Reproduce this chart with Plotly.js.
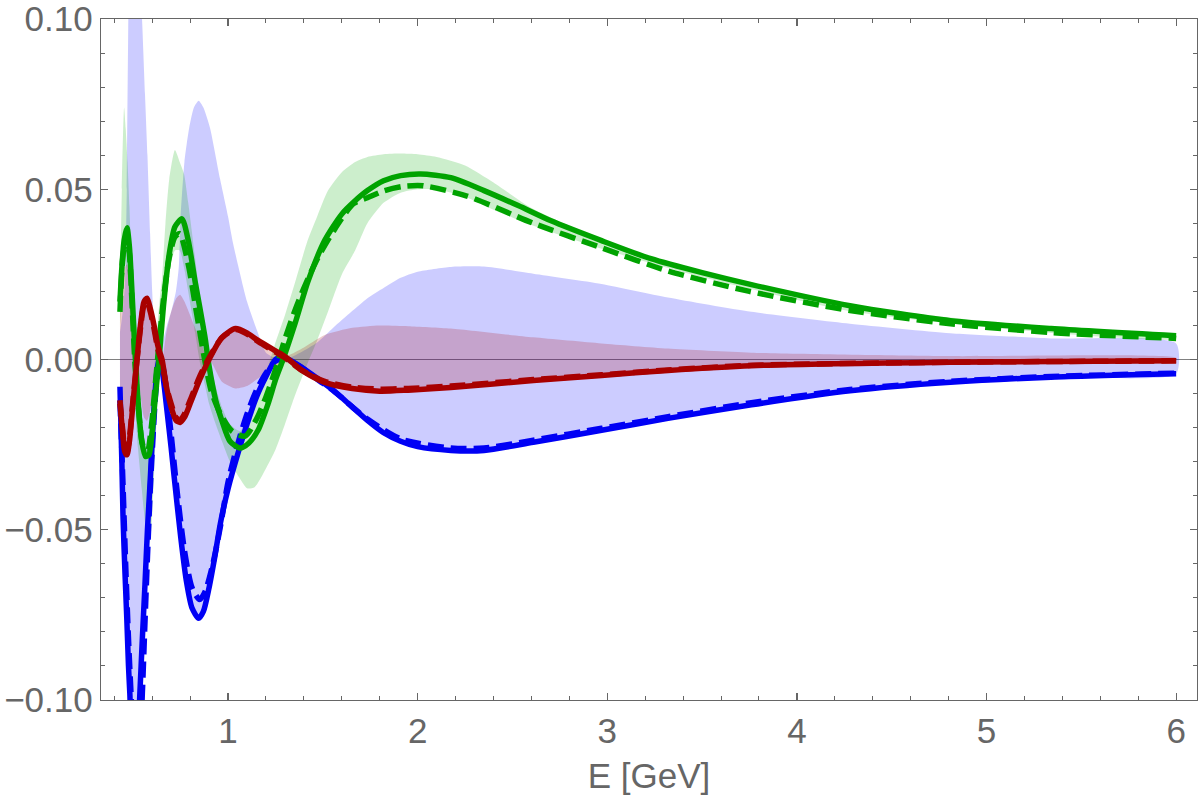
<!DOCTYPE html>
<html>
<head>
<meta charset="utf-8">
<script src="https://cdn.plot.ly/plotly-3.0.1.min.js"></script>
<style>
  html, body { margin: 0; padding: 0; background: #fff; }
  #chart { width: 1200px; height: 800px; }
</style>
</head>
<body>
<div id="chart"></div>
<script>
// Values (E in GeV)

// blue, solid and dashed
const blueX = [0.43, 0.44, 0.446, 0.456, 0.466, 0.475, 0.482, 0.50, 0.52, 0.535, 0.548, 0.562, 0.575, 0.589, 0.60, 0.61, 0.626, 0.64, 0.655, 0.678, 0.70, 0.715, 0.75, 0.78, 0.81, 0.845, 0.87, 0.90, 0.93, 0.96, 1.0, 1.05, 1.10, 1.15, 1.20, 1.25, 1.28, 1.32, 1.38, 1.47, 1.556, 1.65, 1.735, 1.82, 1.91, 2.0, 2.175, 2.35, 2.61, 2.97, 3.32, 3.76, 4.28, 4.81, 5.34, 6.0];
const blueY = [-0.008, -0.030, -0.046, -0.062, -0.076, -0.090, -0.098, -0.118, -0.115, -0.098, -0.082, -0.066, -0.050, -0.036, -0.024, -0.014, -0.003, 0.001, -0.004, -0.015, -0.026, -0.034, -0.052, -0.065, -0.073, -0.076, -0.074, -0.067, -0.058, -0.048, -0.038, -0.028, -0.019, -0.011, -0.005, 0.0, 0.0008, 0.0, -0.002, -0.0055, -0.0091, -0.0137, -0.0179, -0.0215, -0.0240, -0.0256, -0.0267, -0.0267, -0.0243, -0.0208, -0.0173, -0.0133, -0.0092, -0.0067, -0.0052, -0.0042];
const blueDX = [0.43, 0.445, 0.46, 0.475, 0.49, 0.51, 0.53, 0.548, 0.56, 0.575, 0.59, 0.605, 0.62, 0.64, 0.655, 0.68, 0.70, 0.73, 0.77, 0.81, 0.85, 0.88, 0.92, 0.96, 1.0, 1.05, 1.10, 1.15, 1.20, 1.25, 1.30, 1.38, 1.47, 1.556, 1.735, 1.91, 2.175, 2.35, 2.61, 2.97, 3.32, 3.76, 4.28, 4.81, 5.34, 6.0];
const blueDY = [-0.012, -0.035, -0.060, -0.082, -0.100, -0.120, -0.118, -0.098, -0.080, -0.058, -0.038, -0.022, -0.009, -0.001, -0.002, -0.012, -0.022, -0.038, -0.056, -0.067, -0.0705, -0.068, -0.060, -0.049, -0.036, -0.025, -0.016, -0.009, -0.004, -0.0005, 0.0, -0.002, -0.0058, -0.0092, -0.0175, -0.0233, -0.0260, -0.0260, -0.0237, -0.0202, -0.0168, -0.0127, -0.0088, -0.0064, -0.0050, -0.0040];

// green, solid and dashed
const greenX = [0.43, 0.44, 0.452, 0.467, 0.48, 0.495, 0.51, 0.525, 0.545, 0.565, 0.583, 0.60, 0.618, 0.636, 0.66, 0.69, 0.72, 0.757, 0.79, 0.826, 0.852, 0.88, 0.90, 0.935, 0.968, 1.01, 1.063, 1.11, 1.158, 1.211, 1.25, 1.29, 1.353, 1.422, 1.51, 1.60, 1.67, 1.735, 1.82, 1.91, 2.016, 2.175, 2.35, 2.53, 2.70, 2.97, 3.23, 3.50, 3.76, 4.28, 4.81, 5.34, 6.0];
const greenY = [0.017, 0.027, 0.035, 0.0387, 0.033, 0.018, 0.002, -0.012, -0.024, -0.0285, -0.028, -0.021, -0.010, 0.0, 0.016, 0.031, 0.039, 0.0413, 0.035, 0.023, 0.015, 0.006, -0.002, -0.012, -0.018, -0.024, -0.026, -0.0245, -0.0208, -0.013, -0.006, 0.0, 0.0105, 0.023, 0.035, 0.0427, 0.0466, 0.0496, 0.0525, 0.054, 0.0545, 0.0534, 0.0496, 0.0452, 0.0408, 0.0349, 0.0296, 0.0255, 0.0220, 0.0158, 0.0114, 0.0091, 0.0070];
const greenDX = [0.43, 0.445, 0.465, 0.48, 0.495, 0.51, 0.53, 0.55, 0.575, 0.595, 0.615, 0.635, 0.66, 0.69, 0.72, 0.745, 0.79, 0.83, 0.87, 0.91, 0.96, 1.02, 1.09, 1.15, 1.20, 1.25, 1.30, 1.35, 1.40, 1.475, 1.565, 1.66, 1.735, 1.82, 1.92, 2.03, 2.26, 2.61, 2.97, 3.32, 3.75, 4.28, 4.81, 5.34, 6.0];
const greenDY = [0.014, 0.030, 0.037, 0.031, 0.015, -0.002, -0.016, -0.025, -0.027, -0.020, -0.008, 0.004, 0.018, 0.030, 0.036, 0.037, 0.028, 0.015, 0.002, -0.009, -0.016, -0.021, -0.0225, -0.0175, -0.011, -0.003, 0.006, 0.014, 0.021, 0.030, 0.0385, 0.0457, 0.0475, 0.0495, 0.0508, 0.0510, 0.0480, 0.0400, 0.0328, 0.0260, 0.0200, 0.0144, 0.0105, 0.0079, 0.0062];

// red, solid and dashed
const redX = [0.43, 0.445, 0.455, 0.467, 0.48, 0.50, 0.52, 0.54, 0.557, 0.573, 0.59, 0.61, 0.63, 0.652, 0.675, 0.70, 0.725, 0.747, 0.77, 0.80, 0.85, 0.90, 0.968, 1.04, 1.10, 1.158, 1.248, 1.30, 1.39, 1.51, 1.655, 1.80, 1.95, 2.175, 2.61, 2.97, 3.32, 3.76, 4.81, 6.0];
const redY = [-0.013, -0.022, -0.027, -0.028, -0.024, -0.012, 0.0, 0.011, 0.017, 0.018, 0.015, 0.010, 0.004, 0.0, -0.008, -0.014, -0.0178, -0.0185, -0.017, -0.013, -0.006, 0.0, 0.0065, 0.0091, 0.0078, 0.0056, 0.0026, 0.0009, -0.0032, -0.0067, -0.0085, -0.0093, -0.0090, -0.0082, -0.0062, -0.0047, -0.0032, -0.0018, -0.0008, -0.0004];
const redDY = [-0.012, -0.021, -0.026, -0.027, -0.023, -0.011, 0.0, 0.010, 0.016, 0.017, 0.014, 0.009, 0.003, -0.001, -0.008, -0.013, -0.017, -0.0178, -0.016, -0.012, -0.005, 0.0005, 0.0064, 0.0088, 0.0075, 0.0053, 0.0022, 0.0005, -0.0032, -0.0064, -0.0081, -0.0087, -0.0085, -0.0078, -0.0059, -0.0045, -0.0031, -0.0017, -0.0008, -0.0004];

// bands: upper and lower edges
const blueBandX = [0.43, 0.44, 0.446, 0.456, 0.466, 0.475, 0.482, 0.50, 0.52, 0.535, 0.548, 0.562, 0.575, 0.589, 0.60, 0.61, 0.626, 0.64, 0.655, 0.678, 0.70, 0.725, 0.74, 0.75, 0.77, 0.795, 0.82, 0.845, 0.87, 0.905, 0.958, 1.0, 1.027, 1.10, 1.153, 1.20, 1.25, 1.28, 1.32, 1.38, 1.47, 1.556, 1.65, 1.735, 1.82, 1.91, 2.0, 2.175, 2.35, 2.61, 2.97, 3.32, 3.76, 4.28, 4.81, 5.34, 6.0];
const blueBandHi = [0.008, 0.012, 0.015, 0.022, 0.050, 0.105, 0.125, 0.135, 0.130, 0.115, 0.098, 0.078, 0.060, 0.037, 0.020, 0.010, 0.004, 0.002, 0.005, 0.010, 0.014, 0.020, 0.027, 0.042, 0.058, 0.068, 0.074, 0.076, 0.074, 0.068, 0.053, 0.042, 0.034, 0.017, 0.0085, 0.002, 0.0005, 0.001, 0.0005, 0.002, 0.005, 0.0094, 0.014, 0.018, 0.021, 0.024, 0.0258, 0.0272, 0.0273, 0.0252, 0.0222, 0.0182, 0.0140, 0.0105, 0.0077, 0.0062, 0.0047];
const blueBandLo = [-0.010, -0.032, -0.048, -0.063, -0.077, -0.091, -0.099, -0.120, -0.118, -0.099, -0.083, -0.067, -0.051, -0.037, -0.025, -0.015, -0.004, -0.001, -0.005, -0.015, -0.026, -0.040, -0.047, -0.052, -0.060, -0.068, -0.074, -0.076, -0.074, -0.066, -0.049, -0.038, -0.032, -0.019, -0.011, -0.005, -0.0005, -0.0002, -0.0005, -0.002, -0.0058, -0.0092, -0.0137, -0.0179, -0.0215, -0.0240, -0.0256, -0.0267, -0.0267, -0.0243, -0.0208, -0.0173, -0.0133, -0.0092, -0.0067, -0.0052, -0.0042];

const greenBandX = [0.43, 0.44, 0.452, 0.46, 0.47, 0.48, 0.495, 0.51, 0.525, 0.545, 0.565, 0.583, 0.595, 0.61, 0.625, 0.64, 0.652, 0.67, 0.69, 0.72, 0.745, 0.768, 0.79, 0.826, 0.852, 0.88, 0.90, 0.935, 0.968, 1.01, 1.063, 1.10, 1.14, 1.20, 1.25, 1.30, 1.35, 1.42, 1.47, 1.527, 1.60, 1.67, 1.735, 1.82, 1.91, 2.0, 2.1, 2.25, 2.4, 2.6, 2.97, 3.5, 4.28, 5.34, 6.0];
const greenBandHi = [0.020, 0.050, 0.074, 0.068, 0.058, 0.045, 0.022, 0.004, -0.010, -0.021, -0.026, -0.024, -0.016, -0.004, 0.008, 0.018, 0.024, 0.040, 0.053, 0.0615, 0.058, 0.0545, 0.046, 0.030, 0.018, 0.008, 0.001, -0.008, -0.014, -0.019, -0.021, -0.018, -0.013, -0.004, 0.005, 0.013, 0.022, 0.035, 0.042, 0.0496, 0.055, 0.058, 0.0595, 0.0603, 0.0605, 0.0603, 0.0595, 0.057, 0.052, 0.0445, 0.0352, 0.0257, 0.0160, 0.0093, 0.0072];
const greenBandLo = [0.010, 0.018, 0.025, 0.028, 0.025, 0.016, 0.0, -0.014, -0.026, -0.038, -0.049, -0.054, -0.050, -0.034, -0.015, -0.002, 0.006, 0.018, 0.026, 0.032, 0.032, 0.027, 0.020, 0.008, -0.001, -0.008, -0.013, -0.019, -0.024, -0.030, -0.035, -0.0378, -0.0375, -0.032, -0.0265, -0.019, -0.011, -0.001, 0.0056, 0.014, 0.025, 0.032, 0.040, 0.046, 0.049, 0.050, 0.050, 0.0478, 0.044, 0.0395, 0.0325, 0.0242, 0.0142, 0.0078, 0.0061];

const redBandX = redX;
const redBandHi = [0.013, 0.022, 0.027, 0.028, 0.024, 0.012, 0.0, 0.011, 0.017, 0.018, 0.015, 0.010, 0.004, 0.0, 0.008, 0.014, 0.0178, 0.019, 0.017, 0.013, 0.006, 0.0, 0.0065, 0.0091, 0.0078, 0.0056, 0.0026, 0.0009, 0.0032, 0.0072, 0.0093, 0.0100, 0.0098, 0.0091, 0.0065, 0.0047, 0.0032, 0.0020, 0.0010, 0.0005];
const redBandLo = [-0.013, -0.022, -0.027, -0.028, -0.024, -0.012, 0.0, -0.011, -0.017, -0.018, -0.015, -0.010, -0.004, 0.0, -0.008, -0.014, -0.0178, -0.0185, -0.017, -0.013, -0.006, 0.0, -0.0065, -0.0085, -0.0078, -0.0056, -0.0026, -0.0009, -0.0032, -0.0067, -0.0085, -0.0093, -0.0090, -0.0082, -0.0062, -0.0047, -0.0032, -0.0018, -0.0008, -0.0004];

const BLUE = '#0000f5';
const GREEN = '#00a300';
const RED = '#a80000';
const GRAY = '#666666';

function band(xs, hi, lo, color) {
  return {
    x: xs.concat(xs.slice().reverse()),
    y: hi.concat(lo.slice().reverse()),
    type: 'scatter',
    mode: 'lines',
    fill: 'toself',
    fillcolor: color,
    line: { width: 0, shape: 'spline', smoothing: 0.6 },
    hoverinfo: 'skip',
    showlegend: false
  };
}

function curve(xs, ys, color, dashed) {
  return {
    x: xs,
    y: ys,
    type: 'scatter',
    mode: 'lines',
    line: {
      color: color,
      width: 5.5,
      shape: 'spline',
      smoothing: 0.7,
      dash: dashed ? '16px,7px' : 'solid'
    },
    showlegend: false
  };
}

const data = [
  band(blueBandX, blueBandHi, blueBandLo, 'rgba(0,0,255,0.2)'),
  band(greenBandX, greenBandHi, greenBandLo, 'rgba(0,170,0,0.2)'),
  band(redBandX, redBandHi, redBandLo, 'rgba(170,0,0,0.2)'),
  curve(blueX, blueY, BLUE, false),
  curve(blueDX, blueDY, BLUE, true),
  curve(greenX, greenY, GREEN, false),
  curve(greenDX, greenDY, GREEN, true),
  curve(redX, redY, RED, false),
  curve(redX, redDY, RED, true)
];

const tickFont = { family: 'Liberation Sans, Arial, sans-serif', size: 35, color: GRAY };

const layout = {
  width: 1200,
  height: 800,
  margin: { l: 101, r: 3, t: 19, b: 100 },
  paper_bgcolor: 'white',
  plot_bgcolor: 'white',
  showlegend: false,
  xaxis: {
    range: [0.33, 6.11],
    tickvals: [1, 2, 3, 4, 5, 6],
    ticks: 'inside',
    ticklen: 7,
    tickwidth: 1.2,
    tickcolor: GRAY,
    showline: true,
    linecolor: GRAY,
    linewidth: 1.3,
    mirror: 'ticks',
    showgrid: false,
    zeroline: false,
    tickfont: tickFont,
    ticklabeloverflow: 'allow',
    minor: { dtick: 0.2, tick0: 0, ticks: 'inside', ticklen: 4, tickwidth: 1, tickcolor: GRAY, showgrid: false },
    title: { text: 'E [GeV]', font: tickFont, standoff: 14 }
  },
  yaxis: {
    range: [-0.1, 0.1],
    tickvals: [-0.1, -0.05, 0, 0.05, 0.1],
    tickformat: '.2f',
    ticks: 'inside',
    ticklen: 7,
    tickwidth: 1.2,
    tickcolor: GRAY,
    showline: true,
    linecolor: GRAY,
    linewidth: 1.3,
    mirror: 'ticks',
    showgrid: false,
    zeroline: true,
    zerolinecolor: '#808080',
    zerolinewidth: 1,
    tickfont: tickFont,
    ticklabeloverflow: 'allow',
    minor: { dtick: 0.01, tick0: 0, ticks: 'inside', ticklen: 4, tickwidth: 1, tickcolor: GRAY, showgrid: false }
  }
};

Plotly.newPlot('chart', data, layout, { displayModeBar: false, staticPlot: true });
</script>
</body>
</html>
